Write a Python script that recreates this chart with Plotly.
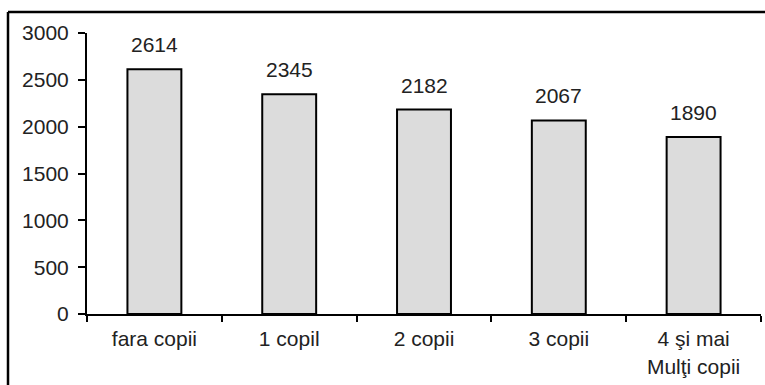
import plotly.graph_objects as go

categories = ["fara copii", "1 copil", "2 copii", "3 copii", "4 şi mai<br>Mulţi copii"]
values = [2614, 2345, 2182, 2067, 1890]

FONT = "Liberation Sans, Arial"
TXT = "#222222"
FS = 21

fig = go.Figure()
fig.add_trace(go.Bar(
    x=categories,
    y=values,
    width=0.4,
    marker=dict(color="#dcdcdc", line=dict(color="black", width=2)),
    hoverinfo="skip",
))

for c, v in zip(categories, values):
    fig.add_annotation(
        x=c, y=v, text=str(v), showarrow=False,
        yanchor="bottom", yshift=11,
        font=dict(family=FONT, size=FS, color=TXT),
    )

# outer frame (top and left edges)
plot_l, plot_r, plot_t, plot_b = 87, 761, 33, 314
W, H = 765, 385
pw, ph = plot_r - plot_l, plot_b - plot_t
fx = (8 - plot_l) / pw
fy = (plot_b - 12) / ph
fig.add_shape(type="line", xref="paper", yref="paper", x0=fx, y0=fy, x1=1.2, y1=fy,
              line=dict(color="black", width=2.5))
fig.add_shape(type="line", xref="paper", yref="paper", x0=fx, y0=fy, x1=fx, y1=-0.5,
              line=dict(color="black", width=2.5))

fig.update_layout(
    width=W, height=H,
    margin=dict(l=plot_l, r=W - plot_r, t=plot_t, b=H - plot_b),
    paper_bgcolor="white", plot_bgcolor="white",
    showlegend=False,
    font=dict(family=FONT, size=FS, color=TXT),
    xaxis=dict(
        showline=True, linecolor="black", linewidth=2,
        ticks="outside", ticklen=6, tickwidth=2, tickcolor="black",
        tickson="boundaries", showgrid=False,
        ticklabelstandoff=5,
        tickfont=dict(size=FS),
    ),
    yaxis=dict(
        range=[0, 3000], dtick=500,
        showline=True, linecolor="black", linewidth=2,
        ticks="outside", ticklen=7, tickwidth=2, tickcolor="black",
        showgrid=False, zeroline=False,
        ticklabelstandoff=5,
        tickfont=dict(size=FS),
    ),
)

fig.write_html("out.html")
